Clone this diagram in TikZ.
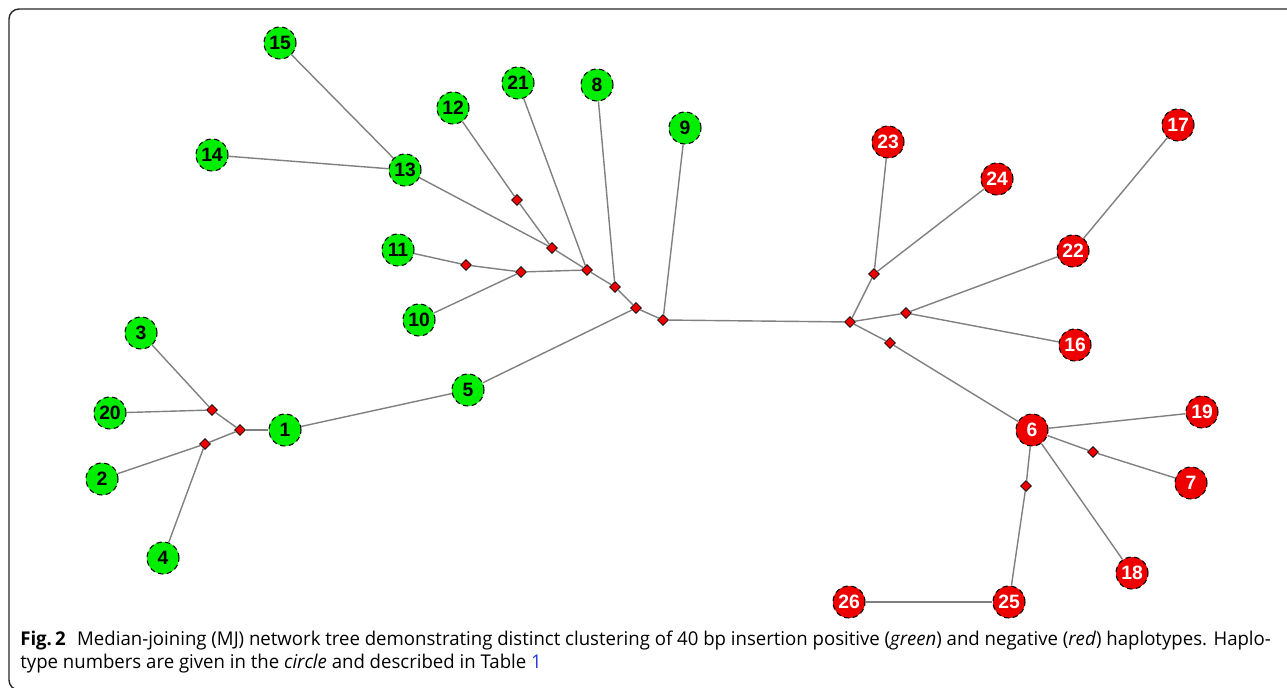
\documentclass[tikz,border=0pt]{standalone}
\usepackage{fontspec}
\setmainfont{Liberation Sans}
\newfontfamily\capfont[FakeStretch=0.98]{Open Sans}
\usetikzlibrary{shapes.geometric}
\definecolor{hapgreen}{RGB}{0,238,0}
\definecolor{hapred}{RGB}{238,0,0}
\definecolor{linkblue}{RGB}{40,60,220}

\begin{document}
\begin{tikzpicture}[
    x=0.02cm,
    y=-0.02cm,
    hap/.style={circle,draw=black,densely dashed,line width=0.6pt,minimum size=0.64cm,inner sep=0pt,font=\bfseries\fontsize{11}{11}\selectfont},
    green hap/.style={hap,fill=hapgreen,text=black},
    red hap/.style={hap,fill=hapred,text=white},
    median/.style={diamond,draw=black,fill=hapred,line width=0.4pt,minimum size=0.22cm,inner sep=0pt},
    net link/.style={draw=black!50,line width=0.8pt},
    cap line/.style={anchor=base west,inner sep=0pt,font=\capfont\fontsize{10.8}{12}\selectfont}
    ]
    \useasboundingbox (0,0) rectangle (1287,688);
    % frame
    \draw [black!85,line width=0.8pt,rounded corners=0.2cm] (1300,9) -- (9,9) -- (9,690) -- (40,690);
    % nodes
    % positive haplotypes
    \foreach \n/\x/\y in {1/285/430,2/102/479,3/141/333,4/163/558,5/468/390,8/597/85,9/685/128,10/419/320,11/398/250,12/453/108,13/405/170,14/212/155,15/280/43,20/110/413,21/518/83} {
        \node [green hap] (h\n) at (\x,\y) {\n};
    }
    % negative haplotypes
    \foreach \n/\x/\y in {6/1032/430,7/1191/483,16/1075/345,17/1178/125,18/1132/573,19/1202/412,22/1073/251,23/888/142,24/997/179,25/1009/602,26/849/602} {
        \node [red hap] (h\n) at (\x,\y) {\n};
    }
    % median vectors
    \foreach \m/\x/\y in {a/212/410,b/240/430,c/205/444,d/636/308,e/517/200,f/552/248,g/466/265,h/521/272,i/587/270,j/615/287,k/663/320,l/850/322,m/874/274,n/906/313,o/890/343,p/1093/452,q/1026/486} {
        \node [median] (mv\m) at (\x,\y) {};
    }
    % arcs
    \foreach \a/\b in {h3/mva,h20/mva,mva/mvb,h2/mvc,h4/mvc,mvc/mvb,mvb/h1,h1/h5,h5/mvd,
        h15/h13,h14/h13,h12/mve,mve/mvf,h13/mvf,mvf/mvi,h21/mvi,h11/mvg,mvg/mvh,h10/mvh,mvh/mvi,
        mvi/mvj,h8/mvj,mvj/mvd,mvd/mvk,h9/mvk,mvk/mvl,
        mvl/mvm,h23/mvm,h24/mvm,mvl/mvn,h22/mvn,h16/mvn,h22/h17,mvl/mvo,mvo/h6,
        h6/h19,h6/mvp,mvp/h7,h6/h18,h6/mvq,mvq/h25,h25/h26} {
        \draw [net link] (\a) -- (\b);
    }
    % caption
    \node [cap line] (cap1) at (20,645) {\textbf{Fig.\,2}\hspace{0.6em}Median-joining (MJ) network tree demonstrating distinct clustering of 40 bp insertion positive (\textit{green}) and negative (\textit{red}) haplotypes. Haplo-};
    \node [cap line] (cap2) at (20,668) {type numbers are given in the \textit{circle} and described in Table \textcolor{linkblue}{1}};
\end{tikzpicture}
\end{document}
